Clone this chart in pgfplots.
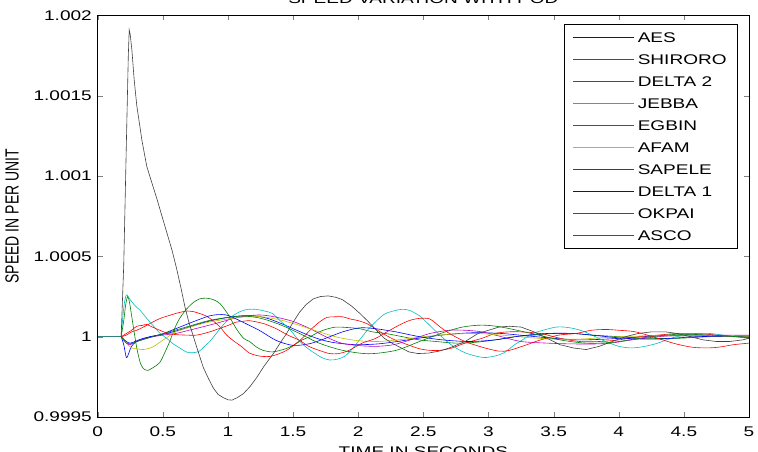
\documentclass[border=0pt]{standalone}
\usepackage{xcolor}
\usepackage{pgfplots}
\pgfplotsset{compat=1.18}
\usetikzlibrary{calc}
\usepackage{fontspec}
\setmainfont{Liberation Sans}[FakeStretch=1.36]
\newfontfamily\ylabfam{Liberation Sans}[FakeStretch=0.735]
\newcommand\ylabfont{\fontsize{19}{22}\ylabfam\selectfont}

% MATLAB-style line colours
\definecolor{mblue}{RGB}{0,0,255}
\definecolor{mgreen}{RGB}{0,128,0}
\definecolor{mred}{RGB}{255,0,0}
\definecolor{mcyan}{RGB}{0,191,191}
\definecolor{mmagenta}{RGB}{191,0,191}
\definecolor{myellow}{RGB}{191,191,0}
\definecolor{mgray}{RGB}{64,64,64}
\definecolor{mflat}{RGB}{50,128,128}

% the legend keeps a 59pt slot for each sample; the coloured samples are stroked over it below
\pgfplotsset{legend image code/.code={\path (0pt,0pt) -- (59pt,0pt);}}

\begin{document}
\begin{tikzpicture}
\begin{axis}[
  scale only axis, width=651.3pt, height=401.5pt,
  xmin=0, xmax=5, ymin=0.9995, ymax=1.002,
  font=\fontsize{14}{16}\selectfont,
  xtick={0,0.5,1,1.5,2,2.5,3,3.5,4,4.5,5},
  xticklabels={0,0.5,1,1.5,2,2.5,3,3.5,4,4.5,5},
  ytick={0.9995,1,1.0005,1.001,1.0015,1.002},
  yticklabels={0.9995,1,1.0005,1.001,1.0015,1.002},
  xtick pos=both, ytick pos=both,
  tick align=inside, major tick length=5pt,
  axis line style={line width=0.9pt},
  xticklabel style={anchor=north, inner sep=0pt, yshift=-10pt},
  yticklabel style={anchor=east, inner sep=0pt, xshift=-5.7pt},
  title={SPEED VARIATION WITH POD},
  every axis title/.style={at={(rel axis cs:0.5,1)}, anchor=base, yshift=11.5pt, inner sep=0pt},
  xlabel={TIME IN SECONDS},
  every axis x label/.style={at={(rel axis cs:0.5,0)}, anchor=north, yshift=-30pt, inner sep=0pt},
  ylabel={SPEED IN PER UNIT},
  every axis y label/.style={at={(rel axis cs:-0.1316,0.5)}, rotate=90, anchor=center, inner sep=0pt, font=\ylabfont},
  legend cell align=left,
  legend style={at={(rel axis cs:0.71595,0.9776)}, anchor=north west,
    inner xsep=9pt, inner ysep=5.8pt, row sep=8pt, column sep=3pt,
    nodes={inner xsep=2pt, inner ysep=2pt, text height=10pt, text depth=0pt}},
]
% common pre-disturbance level
\addplot[mflat, line width=0.6pt, forget plot] coordinates {(0,1) (0.18,1)};

% AES
\addplot[mblue, line width=0.6pt, smooth, tension=0.5] coordinates {
(0.18,1) (0.2,0.99995) (0.22,0.99987) (0.235,0.99989) (0.26,0.99994) (0.3,0.99997)
(0.4,1.0) (0.5,1.000015) (0.6,1.000035) (0.7,1.00006) (0.8,1.000085) (0.9,1.000105)
(1.0,1.00012) (1.1,1.00013) (1.2,1.00013) (1.3,1.000115) (1.4,1.000085) (1.5,1.00005)
(1.6,1.000015) (1.7,0.999985) (1.8,0.999965) (1.9,0.999955) (2.0,0.99995) (2.15,0.999955)
(2.3,0.99997) (2.5,0.999995) (2.7,1.000015) (2.9,1.000025) (3.1,1.00002) (3.3,1.000005)
(3.5,0.99999) (3.7,0.99998) (3.9,0.999985) (4.1,0.999995) (4.3,1.000005) (4.6,1.000005) (5.0,1.0)};
\addlegendentry{AES}

% SHIRORO
\addplot[mgreen, line width=0.6pt, smooth, tension=0.5] coordinates {
(0.18,1) (0.2,1.0001) (0.215,1.0002) (0.23,1.00025) (0.245,1.00021) (0.27,1.00008)
(0.3,0.99993) (0.33,0.99983) (0.36,0.999795) (0.385,0.99979) (0.42,0.999805) (0.477,0.99984)
(0.52,0.99991) (0.553,0.99997) (0.59,1.00005) (0.63,1.000115) (0.68,1.00017) (0.73,1.00021)
(0.78,1.000235) (0.835,1.00024) (0.89,1.00023) (0.94,1.000205) (1.0,1.00014) (1.064,1.00005)
(1.12,0.99999) (1.166,0.99997) (1.22,0.999935) (1.27,0.999915) (1.34,0.999905) (1.40,0.999915)
(1.45,0.999927) (1.51,0.99995) (1.57,0.99998) (1.63,1.0) (1.7,1.00003) (1.77,1.00005)
(1.83,1.00006) (1.9,1.000058) (2.01,1.00005) (2.11,1.00003) (2.21,1.00002) (2.34,1.0)
(2.47,0.99998) (2.6,0.99997) (2.75,0.99996) (2.9,0.999965) (3.05,0.99998) (3.2,1.0)
(3.35,1.00001) (3.5,1.00002) (3.65,1.00002) (3.8,1.00001) (4.0,1.0) (4.2,0.99999)
(4.45,0.99999) (4.7,1.0) (5.0,1.0)};
\addlegendentry{SHIRORO}

% DELTA 2
\addplot[mred, line width=0.6pt, smooth, tension=0.5] coordinates {
(0.18,1) (0.22,1.00001) (0.26,1.00003) (0.3,1.00004) (0.35,1.00006) (0.42,1.00009)
(0.48,1.000114) (0.54,1.00013) (0.6,1.000145) (0.65,1.000155) (0.69,1.00016) (0.74,1.000155)
(0.78,1.000145) (0.83,1.00013) (0.88,1.000103) (0.94,1.00006) (0.99,1.00001) (1.05,0.99997)
(1.11,0.999935) (1.16,0.99990) (1.22,0.999883) (1.27,0.999877) (1.32,0.999877) (1.38,0.99989)
(1.45,0.999915) (1.51,0.99995) (1.57,0.99999) (1.63,1.00004) (1.70,1.00009) (1.76,1.00012)
(1.82,1.000124) (1.88,1.000124) (1.94,1.00011) (2.0,1.0001) (2.07,1.00008) (2.13,1.00005)
(2.21,1.00001) (2.29,0.999977) (2.38,0.99995) (2.47,0.999925) (2.55,0.999915) (2.63,0.999915)
(2.72,0.99993) (2.82,0.99996) (2.95,0.99999) (3.05,1.00002) (3.15,1.00003) (3.25,1.00003)
(3.4,1.00002) (3.55,0.99999) (3.7,0.99997) (3.85,0.99997) (4.0,0.99998) (4.15,1.0)
(4.3,1.00001) (4.45,1.00002) (4.6,1.00002) (4.75,1.00001) (4.9,1.0) (5.0,0.99999)};
\addlegendentry{DELTA 2}

% JEBBA
\addplot[mcyan, line width=0.6pt, smooth, tension=0.5] coordinates {
(0.18,1) (0.2,1.00018) (0.215,1.00025) (0.225,1.00026) (0.25,1.00023) (0.29,1.00019)
(0.324,1.000166) (0.37,1.00012) (0.424,1.00007) (0.48,1.00002) (0.53,0.99999) (0.58,0.999955)
(0.63,0.99993) (0.68,0.999905) (0.73,0.9999) (0.78,0.99991) (0.82,0.99994) (0.86,0.99997)
(0.91,1.00002) (0.96,1.00007) (1.02,1.00012) (1.09,1.000155) (1.15,1.00017) (1.217,1.00017)
(1.28,1.00016) (1.34,1.000145) (1.40,1.0001) (1.47,1.00005) (1.53,0.99999) (1.6,0.999935)
(1.66,0.9999) (1.72,0.99987) (1.78,0.999855) (1.84,0.99986) (1.9,0.99988) (1.96,0.99993)
(2.01,0.99998) (2.07,1.00004) (2.13,1.00009) (2.2,1.00014) (2.26,1.000158) (2.33,1.00017)
(2.39,1.000165) (2.47,1.00013) (2.55,1.00007) (2.64,1.0) (2.73,0.99994) (2.82,0.9999)
(2.9,0.99988) (2.97,0.99987) (3.05,0.99988) (3.12,0.9999) (3.2,0.99995) (3.26,0.99998)
(3.34,1.00002) (3.44,1.000045) (3.52,1.00006) (3.58,1.00006) (3.66,1.00005) (3.74,1.00003)
(3.82,1.0) (3.9,0.99997) (4.0,0.99994) (4.1,0.99993) (4.2,0.99994) (4.3,0.99996)
(4.4,0.99999) (4.5,1.00001) (4.6,1.00002) (4.7,1.00002) (4.8,1.00001) (4.9,1.0) (5.0,0.99999)};
\addlegendentry{JEBBA}

% EGBIN
\addplot[mmagenta, line width=0.6pt, smooth, tension=0.5] coordinates {
(0.18,1) (0.22,0.99996) (0.25,0.99995) (0.3,0.99997) (0.4,0.999995) (0.5,1.00001)
(0.6,1.00002) (0.7,1.00004) (0.8,1.00006) (0.94,1.00009) (1.05,1.000115) (1.15,1.00013)
(1.25,1.000135) (1.35,1.000125) (1.5,1.000095) (1.63,1.00005) (1.75,1.0) (1.87,0.99996)
(2.0,0.999945) (2.14,0.99994) (2.27,0.99995) (2.4,0.99998) (2.55,1.00002) (2.7,1.00004)
(2.82,1.00004) (2.95,1.00003) (3.1,1.0) (3.25,0.99997) (3.45,0.99996) (3.65,0.999955)
(3.9,0.999957) (4.1,0.99998) (4.3,1.0) (4.5,1.00001) (4.7,1.00001) (4.9,1.00001) (5.0,1.00001)};
\addlegendentry{EGBIN}

% AFAM
\addplot[myellow, line width=0.6pt, smooth, tension=0.5] coordinates {
(0.18,1) (0.22,0.99996) (0.26,0.99993) (0.3,0.999925) (0.35,0.99992) (0.42,0.999935)
(0.48,0.999967) (0.54,1.0) (0.6,1.00003) (0.73,1.000065) (0.86,1.000092) (1.0,1.00011)
(1.15,1.000125) (1.25,1.000125) (1.4,1.000105) (1.55,1.00007) (1.7,1.00003) (1.85,0.999995)
(2.0,0.999975) (2.15,0.99997) (2.3,0.99998) (2.5,1.0) (2.7,1.000015) (2.9,1.00002)
(3.1,1.00001) (3.3,0.999995) (3.5,0.999985) (3.7,0.999985) (3.9,0.999995) (4.2,1.000005)
(4.5,1.000005) (5.0,1.0)};
\addlegendentry{AFAM}

% SAPELE
\addplot[mgray, line width=0.6pt] coordinates {
(0.18,1) (0.2,1.00045) (0.22,1.0012) (0.235,1.00175) (0.242,1.00191) (0.25,1.00188)
(0.263,1.00178) (0.28,1.0016) (0.30,1.00144) (0.34,1.00122) (0.377,1.00106) (0.415,1.00096)
(0.454,1.00086) (0.49,1.00076) (0.53,1.00065) (0.57,1.00054) (0.607,1.00042) (0.64,1.0003)
(0.67,1.000185) (0.70,1.00009) (0.735,1.0) (0.77,0.99991) (0.81,0.99981) (0.85,0.99974)
(0.888,0.99968) (0.925,0.99964) (0.965,0.99962) (1.0,0.999607) (1.03,0.999605) (1.07,0.99962)
(1.118,0.999645) (1.17,0.99969) (1.22,0.999745) (1.28,0.99982) (1.35,0.999896) (1.40,0.99996)
(1.45,1.00002) (1.50,1.00009) (1.55,1.000153) (1.60,1.0002) (1.654,1.000235) (1.71,1.00025)
(1.77,1.000254) (1.83,1.000245) (1.88,1.00023) (1.95,1.00019) (2.01,1.000147) (2.07,1.0001)
(2.14,1.00004) (2.2,0.99999) (2.27,0.999955) (2.33,0.99993) (2.39,0.999905) (2.46,0.999895)
(2.54,0.999898) (2.62,0.99991) (2.7,0.99993) (2.82,0.99997) (2.92,1.00002) (3.0,1.00004)
(3.08,1.00006) (3.16,1.000065) (3.25,1.00006) (3.35,1.00003) (3.45,0.99999) (3.55,0.99995)
(3.65,0.99993) (3.75,0.99992) (3.85,0.99994) (3.95,0.99997) (4.05,1.0) (4.15,1.00002)
(4.25,1.00003) (4.36,1.00003) (4.45,1.00002) (4.55,1.0) (4.65,0.99998) (4.75,0.99997)
(4.85,0.99997) (4.95,0.99998) (5.0,0.99999)};
\addlegendentry{SAPELE}

% DELTA 1
\addplot[mblue, line width=0.6pt, smooth, tension=0.5] coordinates {
(0.18,1) (0.22,0.99997) (0.25,0.99996) (0.3,0.999975) (0.35,0.99999) (0.48,1.000013)
(0.6,1.00005) (0.73,1.000092) (0.86,1.00013) (0.95,1.000138) (1.01,1.00013) (1.11,1.000092)
(1.24,1.00004) (1.37,0.999977) (1.5,0.999946) (1.63,0.999957) (1.75,0.99999) (1.88,1.00003)
(2.01,1.000055) (2.13,1.00005) (2.29,1.00003) (2.47,1.0) (2.65,0.99998) (2.85,0.99997)
(3.05,0.99998) (3.25,1.000005) (3.45,1.00002) (3.65,1.00002) (3.85,1.000005) (4.05,0.99999)
(4.3,0.999985) (4.6,1.0) (5.0,1.000005)};
\addlegendentry{DELTA 1}

% OKPAI
\addplot[mgreen, line width=0.6pt, smooth, tension=0.5] coordinates {
(0.18,1) (0.22,0.99996) (0.25,0.999955) (0.3,0.99997) (0.4,0.999995) (0.55,1.00003)
(0.7,1.000065) (0.85,1.0001) (1.0,1.00012) (1.12,1.000128) (1.25,1.000115) (1.4,1.000075)
(1.55,1.00002) (1.7,0.99996) (1.88,0.999915) (2.08,0.999894) (2.29,0.999915) (2.47,0.99997)
(2.65,1.000025) (2.8,1.00006) (2.95,1.000072) (3.1,1.00006) (3.33,1.00002) (3.55,0.99998)
(3.75,0.99996) (3.95,0.999965) (4.2,0.999995) (4.45,1.000015) (4.7,1.00001) (5.0,0.999995)};
\addlegendentry{OKPAI}

% ASCO
\addplot[mred, line width=0.6pt, smooth, tension=0.5] coordinates {
(0.18,1) (0.22,1.00002) (0.26,1.00004) (0.3,1.000065) (0.34,1.00007) (0.375,1.000076)
(0.42,1.00006) (0.477,1.00004) (0.54,1.00002) (0.6,1.000013) (0.68,1.00001) (0.76,1.00001)
(0.86,1.00003) (0.93,1.00005) (1.0,1.00007) (1.06,1.00009) (1.11,1.000095) (1.16,1.0001)
(1.22,1.000092) (1.28,1.00008) (1.37,1.00005) (1.46,1.00001) (1.55,0.999977) (1.62,0.99994)
(1.7,0.999915) (1.78,0.999895) (1.85,0.999895) (1.93,0.999915) (2.03,0.99996) (2.13,0.999988)
(2.22,1.00003) (2.31,1.00007) (2.39,1.0001) (2.47,1.000114) (2.55,1.00011) (2.63,1.00006)
(2.7,1.00002) (2.82,0.99997) (2.95,0.999935) (3.08,0.99991) (3.16,0.999915) (3.28,0.999946)
(3.4,0.99998) (3.54,1.00001) (3.67,1.00002) (3.79,1.00004) (3.9,1.000045) (4.0,1.00004)
(4.13,1.00003) (4.3,0.99999) (4.43,0.999957) (4.56,0.999935) (4.67,0.99993) (4.77,0.999935)
(4.88,0.99995) (5.0,0.99996)};
\addlegendentry{ASCO}
\end{axis}
% coloured legend samples, one per row of the legend box (row pitch 22pt)
\foreach \c [count=\i from 0] in {mblue,mgreen,mred,mcyan,mmagenta,myellow,mgray,mblue,mgreen,mred}
  \draw[\c, line width=0.6pt] ($(current axis.north west)+(477.3pt,-21.8pt-22pt*\i)$) -- ++(59pt,0pt);
\pgfresetboundingbox
\path ($(current axis.south west)+(-97.7pt,-35pt)$) rectangle ($(current axis.north east)+(9pt,15.5pt)$);
\end{tikzpicture}
\end{document}
